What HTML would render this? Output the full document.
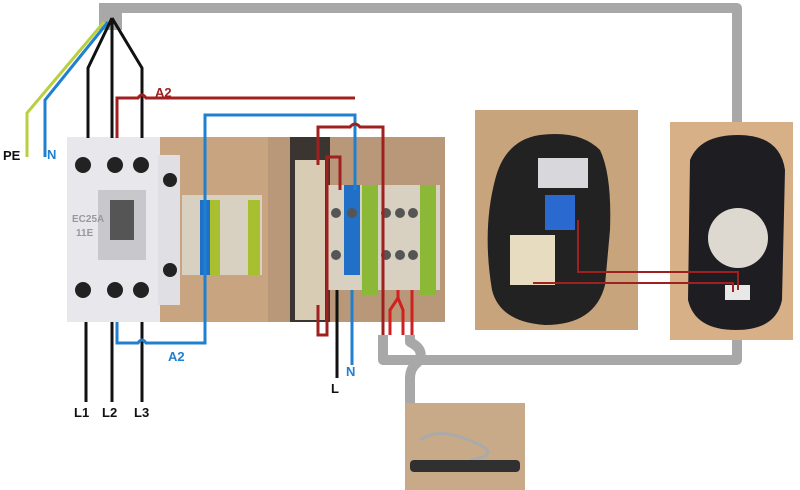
<!DOCTYPE html><html><head><style>body{margin:0;background:#fff}svg{display:block}text{font-family:"Liberation Sans",sans-serif;font-weight:bold}</style></head><body>
<svg width="800" height="490" viewBox="0 0 800 490" xmlns="http://www.w3.org/2000/svg">
<g fill="none" stroke="#a8a8a8" stroke-width="10" stroke-linejoin="round">
<path d="M104,28 V8 H737 V132"/>
<path d="M737,338 V360 H383 V335"/>
<path d="M410,335 V342 Q426,350 418,362 Q410,368 410,378 V405"/>
</g>
<rect x="99" y="3" width="23" height="27" fill="#a8a8a8"/>
<rect x="67" y="137" width="378" height="185" fill="#c8a480"/>
<rect x="268" y="137" width="177" height="185" fill="#b89878"/>
<rect x="290" y="137" width="40" height="185" fill="#3a3530"/>
<rect x="295" y="160" width="30" height="160" fill="#d8ccb4"/>
<rect x="67" y="137" width="93" height="185" fill="#e8e8ec"/>
<rect x="158" y="155" width="22" height="150" fill="#e0e0e4"/>
<rect x="98" y="190" width="48" height="70" fill="#c8c8cc"/>
<rect x="110" y="200" width="24" height="40" fill="#555"/>
<g fill="#222"><circle cx="83" cy="165" r="8"/><circle cx="115" cy="165" r="8"/><circle cx="141" cy="165" r="8"/><circle cx="83" cy="290" r="8"/><circle cx="115" cy="290" r="8"/><circle cx="141" cy="290" r="8"/><circle cx="170" cy="180" r="7"/><circle cx="170" cy="270" r="7"/></g>
<text x="72" y="222" font-size="10" fill="#999" font-weight="normal">EC25A</text>
<text x="76" y="236" font-size="10" fill="#999" font-weight="normal">11E</text>
<rect x="182" y="195" width="80" height="80" fill="#d8d0c0"/>
<rect x="200" y="200" width="10" height="75" fill="#2070c8"/>
<rect x="210" y="200" width="10" height="75" fill="#a8c030"/>
<rect x="248" y="200" width="12" height="75" fill="#a8c030"/>
<rect x="328" y="185" width="112" height="105" fill="#d8d0c0"/>
<rect x="344" y="185" width="16" height="90" fill="#2070c8"/>
<rect x="362" y="185" width="16" height="110" fill="#8cb838"/>
<rect x="420" y="185" width="16" height="110" fill="#8cb838"/>
<g fill="#555"><circle cx="336" cy="213" r="5"/><circle cx="352" cy="213" r="5"/><circle cx="386" cy="213" r="5"/><circle cx="400" cy="213" r="5"/><circle cx="413" cy="213" r="5"/><circle cx="336" cy="255" r="5"/><circle cx="386" cy="255" r="5"/><circle cx="400" cy="255" r="5"/><circle cx="413" cy="255" r="5"/></g>
<rect x="475" y="110" width="163" height="220" fill="#c8a47c"/>
<path d="M540,135 Q580,130 600,150 Q612,175 610,230 L605,285 Q595,325 545,325 Q500,322 492,290 Q482,230 495,180 Q505,140 540,135 Z" fill="#222"/>
<rect x="538" y="158" width="50" height="30" fill="#d8d8dc"/>
<rect x="510" y="235" width="45" height="50" fill="#e8dcc0"/>
<rect x="545" y="195" width="30" height="35" fill="#2a6ad0"/>
<rect x="670" y="122" width="123" height="218" fill="#d8b088"/>
<path d="M690,160 Q700,135 738,135 Q780,135 785,170 L782,300 Q776,330 736,330 Q695,330 688,300 Z" fill="#1e1e22"/>
<circle cx="738" cy="238" r="30" fill="#ddd8d0"/>
<rect x="725" y="285" width="25" height="15" fill="#e8e8e8"/>
<rect x="405" y="403" width="120" height="87" fill="#c8aa88"/>
<path d="M420,440 Q440,425 480,445 Q500,455 470,460" fill="none" stroke="#aaa" stroke-width="3"/>
<rect x="410" y="460" width="110" height="12" rx="4" fill="#303030"/>
<g fill="none" stroke-width="3">
<path d="M104,22 L27,113 V157" stroke="#b8d040"/>
<path d="M108,22 L45,100 V157" stroke="#2080d0"/>
<g stroke="#111"><path d="M112,18 L88,68 V138"/><path d="M112,18 V138"/><path d="M112,18 L142,68 V138"/>
<path d="M86,322 V402"/><path d="M112,322 V402"/><path d="M142,322 V402"/><path d="M337,290 V378"/></g>
<path d="M117,138 V98 H138 Q142,92 146,98 H355" stroke="#a02020"/>
<path d="M117,322 V343 H138 Q142,337 146,343 H205 V115 H355 V190" stroke="#2080d0"/>
<path d="M352,290 V365" stroke="#2080d0"/>
<path d="M318,165 V127 H350 Q355,121 360,127 H383 V335" stroke="#a02020"/>
<path d="M318,305 V335 H327 V157 H340 V190" stroke="#a02020"/>
<path d="M390,335 V310 L398,298 V290" stroke="#d02020"/>
<path d="M403,335 V310 L398,298" stroke="#d02020"/>
<path d="M412,335 V290" stroke="#d02020"/>
<path d="M578,220 V272 H738 V290" stroke="#a02020" stroke-width="2"/>
<path d="M533,283 H733 V292" stroke="#a02020" stroke-width="2"/>
</g>
<text x="3" y="160" font-size="13" fill="#111">PE</text>
<text x="47" y="159" font-size="13" fill="#2080d0">N</text>
<text x="155" y="97" font-size="13" fill="#a02020">A2</text>
<text x="168" y="361" font-size="13" fill="#2080d0">A2</text>
<text x="74" y="417" font-size="13" fill="#111">L1</text>
<text x="102" y="417" font-size="13" fill="#111">L2</text>
<text x="134" y="417" font-size="13" fill="#111">L3</text>
<text x="331" y="393" font-size="13" fill="#111">L</text>
<text x="346" y="376" font-size="13" fill="#2080d0">N</text>
</svg>
</body></html>
